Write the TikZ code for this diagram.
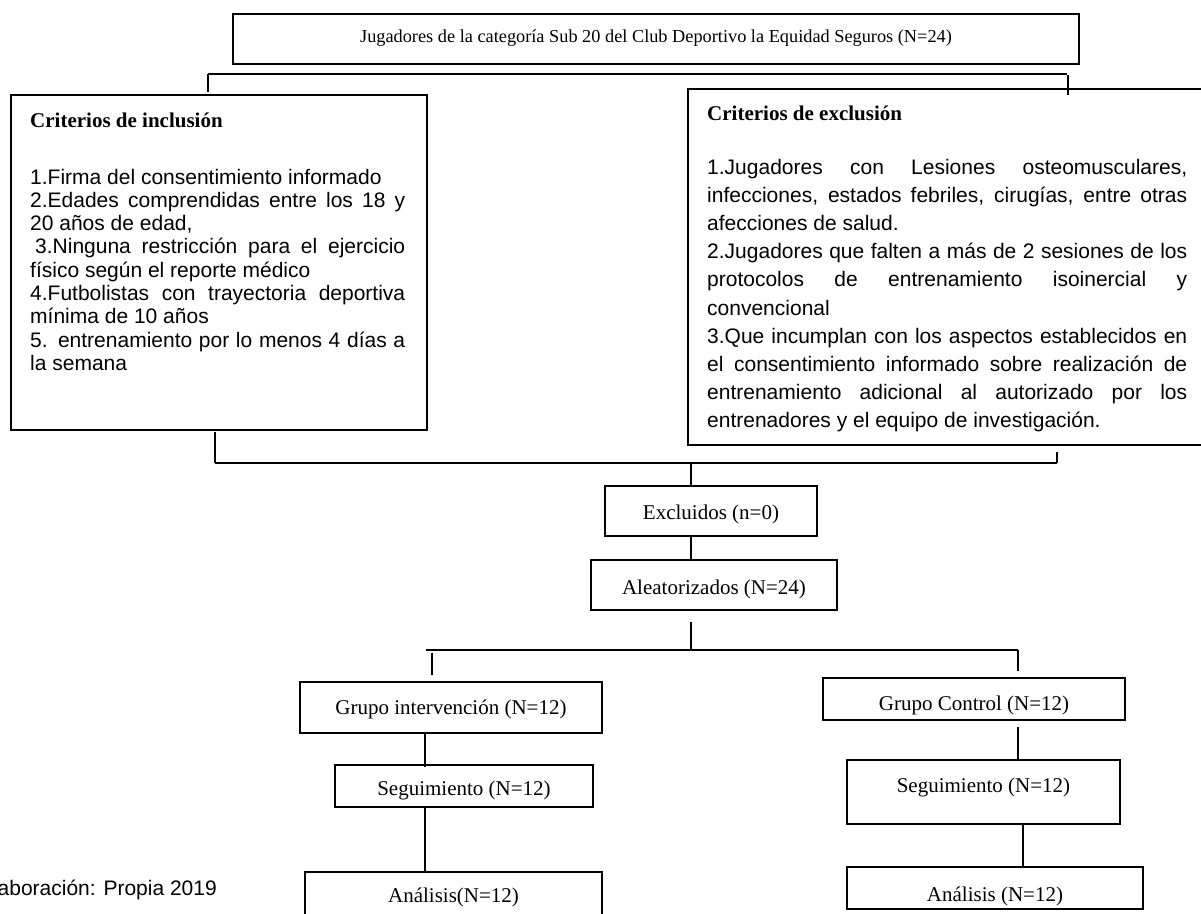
\documentclass[tikz,border=0pt]{standalone}
\usepackage{fontspec}
\setmainfont{Liberation Serif}
\newfontfamily\arialf{Liberation Sans}
\newcommand{\jl}[2]{\makebox[#1][s]{#2}}
\begin{document}
\begin{tikzpicture}[x=1pt,y=-1pt,
  box/.style={draw, line width=1.6pt, rectangle, inner sep=0pt,
    font=\fontsize{21}{25}\selectfont, text height=14pt, text depth=0pt},
  conn/.style={line width=1.6pt},
  bar/.style={line width=2.4pt},
  para/.style={anchor=base west, inner sep=0pt, align=left}]
\useasboundingbox (0,0) rectangle (1201,913);

% top box
\node[box, minimum width=846pt, minimum height=50pt,
  font=\fontsize{18.3}{22}\selectfont, text height=12pt, text depth=6pt]
  (top) at (656,39) {Jugadores de la categoría Sub 20 del Club Deportivo la Equidad Seguros (N=24)};

% inclusion box
\node[box, anchor=north west, minimum width=416pt, minimum height=335pt] (inc) at (10,94) {};
\node[para, font=\bfseries\fontsize{21}{25}\selectfont]
  (inchead) at (30,127) {Criterios de inclusión};
% anchored at the baseline of the last line
\node[para, font=\arialf\fontsize{21}{23.3}\selectfont] (inctext) at (30,370.4)
  {1.Firma del consentimiento informado\\
   \jl{375pt}{2.Edades comprendidas entre los 18 y}\\
   20 años de edad,\\
   \jl{375pt}{\hspace*{5pt}3.Ninguna restricción para el ejercicio}\\
   físico según el reporte médico\\
   \jl{375pt}{4.Futbolistas con trayectoria deportiva}\\
   mínima de 10 años\\
   \jl{375pt}{5. entrenamiento por lo menos 4 días a}\\
   la semana};

% exclusion box
\node[box, anchor=north west, minimum width=540pt, minimum height=356pt] (exc) at (687,88) {};
\node[para, font=\bfseries\fontsize{21}{25}\selectfont]
  (exchead) at (707,120) {Criterios de exclusión};
\node[para, font=\arialf\fontsize{21}{28.1}\selectfont] (exctext) at (707,427.4)
  {\jl{480pt}{1.Jugadores con Lesiones osteomusculares,}\\
   \jl{480pt}{infecciones, estados febriles, cirugías, entre otras}\\
   afecciones de salud.\\
   \jl{480pt}{2.Jugadores que falten a más de 2 sesiones de los}\\
   \jl{480pt}{protocolos de entrenamiento isoinercial y}\\
   convencional\\
   \jl{480pt}{3.Que incumplan con los aspectos establecidos en}\\
   \jl{480pt}{el consentimiento informado sobre realización de}\\
   \jl{480pt}{entrenamiento adicional al autorizado por los}\\
   entrenadores y el equipo de investigación.};

% flow boxes
\node[box, minimum width=212pt, minimum height=50pt, text height=17pt] (excl) at (711,511) {Excluidos (n=0)};
\node[box, minimum width=246pt, minimum height=50pt, text height=19pt] (alea) at (714,585) {Aleatorizados (N=24)};
\node[box, minimum width=302pt, minimum height=51pt, text height=14pt] (gi) at (451,707.5) {Grupo intervención (N=12)};
\node[box, minimum width=302pt, minimum height=42pt, text height=23pt] (gc) at (974,699) {Grupo Control (N=12)};
\node[box, minimum width=258pt, minimum height=42pt, text height=18pt] (segl) at (464,786) {Seguimiento (N=12)};
\node[box, minimum width=273pt, minimum height=64pt, text height=14pt, text depth=13pt] (segr) at (983.5,792) {Seguimiento (N=12)};
\node[box, minimum width=297pt, minimum height=46pt, text height=14pt] (anal) at (453.5,895) {Análisis(N=12)};
\node[box, minimum width=296pt, minimum height=42pt, text height=26pt] (anar) at (995,888) {Análisis (N=12)};

% source note (cut off at the left edge, as in the reference)
\node[anchor=base east, inner sep=0pt, font=\arialf\fontsize{21}{25}\selectfont] (elab) at (217,895.5) {Elaboración: Propia 2019};

% connectors
\coordinate (tl) at (208,74);
\coordinate (tr) at (1067,74);
\draw[bar] (tl) -- (tr);
\draw[conn] (tl) -- (208,92);
\draw[conn] (1068,75) -- (1068,95);

\coordinate (bl) at (215,463);
\coordinate (br) at (1057,463);
\coordinate (bc) at (691,463);
\draw[conn] (215,432) -- (bl);
\draw[bar] (bl) -- (br);
\draw[conn] (br) -- (1057,452);
\draw[conn] (bc) -- (691,486);
\draw[conn] (691,536) -- (691,560);

\coordinate (sc) at (691,650);
\draw[conn] (691,622) -- (sc);
\draw[bar] (426,650) -- (1018,650);
\draw[conn] (432,653) -- (432,675);
\draw[conn] (1018,650) -- (1018,671);

\draw[conn] (425,733) -- (425,767);
\draw[conn] (425,807) -- (425,872);
\draw[conn] (1018,727) -- (1018,760);
\draw[conn] (1023,824) -- (1023,867);
\end{tikzpicture}
\end{document}
